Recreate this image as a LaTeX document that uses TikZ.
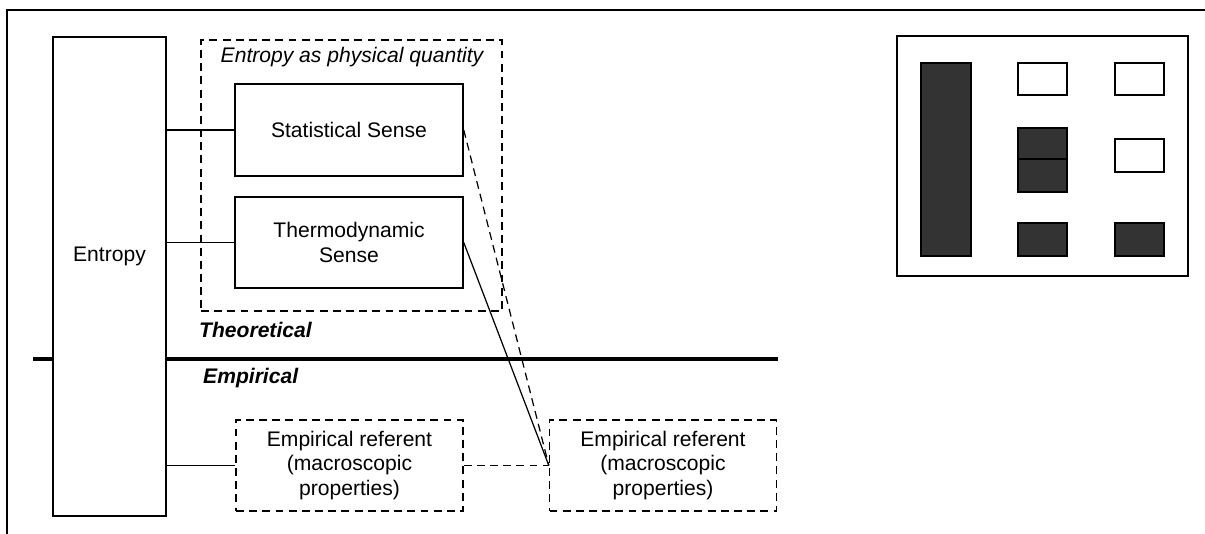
\documentclass[tikz,border=0pt]{standalone}
\usepackage{fontspec}
\setmainfont{Liberation Sans}
\usepackage{tikz}
\usetikzlibrary{positioning, calc}
\definecolor{cellgray}{rgb}{0.2,0.2,0.2}

\begin{document}
\begin{tikzpicture}[x=0.02cm, y=-0.02cm, font=\fontsize{12}{14}\selectfont,
    box/.style={draw, line width=0.9pt, fill=white, align=center, inner sep=0pt},
    dashbox/.style={draw, line width=0.8pt, dash pattern=on 4.5pt off 3pt, fill=white, align=center, inner sep=0pt},
    link/.style={line width=0.7pt},
    dashlink/.style={line width=0.7pt, dash pattern=on 4.5pt off 3pt},
    cell/.style={draw, line width=0.9pt}]
    \useasboundingbox (0,0) rectangle (1205,534);

    \coordinate (divL) at (33,359);
    \coordinate (divR) at (778,359);

    % frame and the theoretical / empirical border
    \draw [line width=1.1pt] (7,534) -- (7,10) -- (1205,10);
    \draw [line width=2.2pt] (divL) -- (divR);

    \node[dashbox, fill=none, minimum width=6.02cm, minimum height=5.42cm] (quantity) at (351.5,175.5) {};
    \node[font=\fontsize{12}{14}\selectfont\itshape] (quantitytitle) at (352,57) {Entropy as physical quantity};

    \node[box, minimum width=2.26cm, minimum height=9.58cm] (entropy) at (109.5,276.5) {};
    \node (entropytext) at ($(entropy)+(0,-20)$) {Entropy};

    \node[box, minimum width=4.56cm, minimum height=1.84cm] (stat) at (349,130) {Statistical Sense};
    \node[box, minimum width=4.56cm, minimum height=1.82cm] (thermo) at (349,242.5) {Thermodynamic\\
      Sense};

    \node[anchor=west, font=\fontsize{12}{14}\selectfont\bfseries\itshape] (theo) at (193,330) {Theoretical};
    \node[anchor=west, font=\fontsize{12}{14}\selectfont\bfseries\itshape] (emp) at (197,378) {Empirical};

    \node[dashbox, minimum width=4.54cm, minimum height=1.82cm] (ref1) at (349.5,465.5) {Empirical referent\\
      (macroscopic\\
      properties)};
    \node[dashbox, minimum width=4.54cm, minimum height=1.82cm] (ref2) at (663,465.5) {Empirical referent\\
      (macroscopic\\
      properties)};

    \draw [link] (stat.west -| entropy.east) -- (stat.west);
    \draw [link] (thermo.west -| entropy.east) -- (thermo.west);
    \draw [link] (ref1.west -| entropy.east) -- (ref1.west);
    \draw [dashlink] (ref1.east) -- (ref2.west);
    \draw [dashlink] (stat.east) -- (ref2.west);
    \draw [link] (thermo.east) -- (ref2.west);

    % legend
    \draw [line width=1pt] (897,36) rectangle (1188,276);
    \draw [cell, fill=cellgray] (921,63) rectangle (971,256);
    \draw [cell] (1018,63) rectangle (1067,95);
    \draw [cell] (1115,63) rectangle (1164,95);
    \draw [cell, fill=cellgray] (1018,128) rectangle (1067,159);
    \draw [cell, fill=cellgray] (1018,159) rectangle (1067,192);
    \draw [cell] (1115,139) rectangle (1164,172);
    \draw [cell, fill=cellgray] (1018,223) rectangle (1067,256);
    \draw [cell, fill=cellgray] (1115,223) rectangle (1164,256);
  \end{tikzpicture}
\end{document}
